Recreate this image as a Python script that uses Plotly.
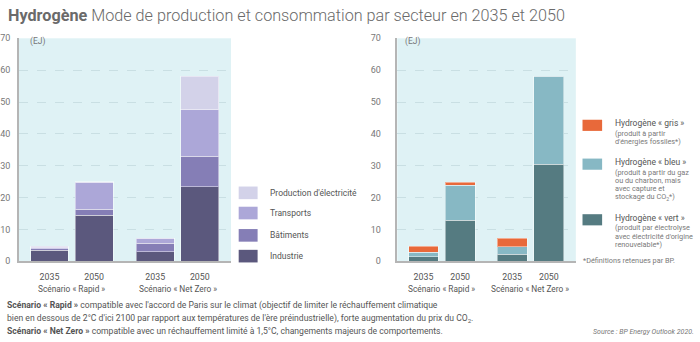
import plotly.graph_objects as go

# ---------------- data ----------------
years = ["2035", "2050", "2035", "2050"]
scenarios = ["Scénario « Rapid »", "Scénario « Net Zero »"]
y_ticks = [0, 10, 20, 30, 40, 50, 60, 70]

# Consumption by sector (EJ)
sector_names = ["Industrie", "Bâtiments", "Transports", "Production d'électricité"]
industrie = [3.4, 14.4, 3.0, 23.4]
batiments = [0.6, 2.0, 2.7, 9.6]
transports = [0.4, 8.4, 1.3, 14.5]
electricite = [0.3, 0.2, 0.2, 10.6]
sector_colors = ["#5b587d", "#857eb6", "#aca7d8", "#d3d2e9"]

# Production mode (EJ)
prod_names = ["Hydrogène « vert »", "Hydrogène « bleu »", "Hydrogène « gris »"]
h2_vert = [1.4, 12.9, 2.2, 30.5]
h2_bleu = [1.4, 11.0, 2.4, 27.6]
h2_gris = [1.9, 0.9, 2.6, 0.0]
prod_colors = ["#557b81", "#87b8c4", "#e8693a"]
prod_notes = [
    ["(produit par électrolyse", "avec électricité d'origine", "renouvelable*)"],
    ["(produit à partir du gaz", "ou du charbon, mais", "avec capture et", "stockage du CO<sub>2</sub>*)"],
    ["(produit à partir", "d'énergies fossiles*)"],
]

W, H = 700, 342
def px(x): return x / W
def py(y): return 1 - y / H

# bar positions: two groups of two bars
def positions(group_gap):
    return [0, 1, 1 + group_gap, 2 + group_gap]

pos_l = positions(1.37)
pos_r = positions(1.42)

fig = go.Figure()
for vals, name, col in zip([industrie, batiments, transports, electricite], sector_names, sector_colors):
    fig.add_trace(go.Bar(x=pos_l, y=vals, name=name, marker_color=col, width=0.85,
                         marker_line=dict(color="rgba(255,255,255,0.45)", width=1),
                         xaxis="x", yaxis="y", showlegend=False))
for vals, name, col in zip([h2_vert, h2_bleu, h2_gris], prod_names, prod_colors):
    fig.add_trace(go.Bar(x=pos_r, y=vals, name=name, marker_color=col, width=0.815,
                         marker_line=dict(color="rgba(255,255,255,0.45)", width=1),
                         xaxis="x2", yaxis="y2", showlegend=False))

tickfont = dict(family="Roboto", size=9, color="#777777")
yax = dict(range=[0, 70], tickvals=y_ticks, showgrid=True, gridcolor="#c9dfe3",
           griddash="dash", gridwidth=1, zeroline=False, showline=True, linecolor="#b5b5b5",
           linewidth=1.5, tickfont=tickfont, ticks="", fixedrange=True,
           domain=[py(264), py(34.3)])
xax = dict(showgrid=False, zeroline=False, showline=True, linecolor="#b5b5b5", linewidth=2,
           tickfont=dict(family="Roboto", size=8.8, color="#555555"), ticks="", ticktext=years,
           fixedrange=True, ticklabelstandoff=6)

fig.update_layout(
    width=W, height=H, margin=dict(l=0, r=0, t=0, b=0),
    paper_bgcolor="white", plot_bgcolor="#dff2f5", barmode="stack",
    font=dict(family="Roboto", color="#555555"),
    xaxis=dict(xax, domain=[px(16), px(229)], anchor="y", tickvals=pos_l,
               range=[-0.685, -0.685 + 213 / 44.8]),
    yaxis=dict(yax, anchor="x", ticklabelstandoff=5),
    xaxis2=dict(xax, domain=[px(396), px(575.3)], anchor="y2", tickvals=pos_r,
                range=[-0.715, -0.715 + 179.3 / 36.8]),
    yaxis2=dict(yax, anchor="x2", ticklabelstandoff=13),
)

ann = []
# title
ann.append(dict(x=px(3), y=py(11), xref="paper", yref="paper", xanchor="left", yanchor="middle",
                showarrow=False,
                text="<b>Hydrogène</b> <span style='font-weight:300'>Mode de production et consommation par secteur en 2035 et 2050</span>",
                font=dict(family="Roboto", size=16.2, color="#6a6a6a")))
# units
for xa, xx in [("x", px(25)), ("x2", px(402))]:
    ann.append(dict(x=xx, y=py(37.5), xref="paper", yref="paper", xanchor="left", yanchor="middle",
                    showarrow=False, text="(EJ)", font=dict(family="Roboto", size=8.5, color="#777777")))
# scenario labels
for xa, pos in [("x", pos_l), ("x2", pos_r)]:
    for i, s in enumerate(scenarios):
        ann.append(dict(x=(pos[2 * i] + pos[2 * i + 1]) / 2, y=py(292.5), xref=xa, yref="paper",
                        xanchor="center", yanchor="middle", showarrow=False, text=s,
                        font=dict(family="Roboto", size=8.3, color="#555555")))

shapes = []
# left legend (top = Production d'électricité)
leg_y = [258.7, 237.3, 214.3, 193.5]
for name, col, yc in zip(sector_names, sector_colors, leg_y):
    shapes.append(dict(type="rect", xref="paper", yref="paper", x0=px(236.7), x1=px(255.7),
                       y0=py(yc + 6.5), y1=py(yc - 6.5), fillcolor=col, line=dict(width=0)))
    ann.append(dict(x=px(266.5), y=py(yc), xref="paper", yref="paper", xanchor="left",
                    yanchor="middle", showarrow=False, text=name,
                    font=dict(family="Roboto", size=8.5, color="#555555")))

# right legend
leg_top = [219.0, 161.7, 121.7]
for name, col, yt, notes in zip(prod_names, prod_colors, leg_top, prod_notes):
    shapes.append(dict(type="rect", xref="paper", yref="paper", x0=px(582), x1=px(601.7),
                       y0=py(yt + 8), y1=py(yt - 3.5), fillcolor=col, line=dict(width=0)))
    ann.append(dict(x=px(613), y=py(yt), xref="paper", yref="paper", xanchor="left",
                    yanchor="middle", showarrow=False, text=name,
                    font=dict(family="Roboto", size=8.5, color="#555555")))
    for k, line in enumerate(notes):
        ann.append(dict(x=px(613), y=py(yt + 10.7 + 8.5 * k), xref="paper", yref="paper",
                        xanchor="left", yanchor="middle", showarrow=False, text=line,
                        font=dict(family="Roboto", size=7.3, color="#7a7a7a")))
ann.append(dict(x=px(580.5), y=py(263.7), xref="paper", yref="paper", xanchor="left",
                yanchor="middle", showarrow=False, text="*Définitions retenues par BP.",
                font=dict(family="Roboto", size=7.3, color="#7a7a7a")))

# footnotes
foot = [
    "<b>Scénario « Rapid »</b> compatible avec l'accord de Paris sur le climat (objectif de limiter le réchauffement climatique",
    "bien en dessous de 2°C d'ici 2100 par rapport aux températures de l'ère préindustrielle), forte augmentation du prix du CO<sub>2</sub>.",
    "<b>Scénario « Net Zero »</b> compatible avec un réchauffement limité à 1,5°C, changements majeurs de comportements.",
]
for k, line in enumerate(foot):
    ann.append(dict(x=px(2), y=py(310 + 13 * k), xref="paper", yref="paper", xanchor="left",
                    yanchor="middle", showarrow=False, text=line,
                    font=dict(family="Roboto", size=8.6, color="#555555")))
ann.append(dict(x=px(696), y=py(337), xref="paper", yref="paper", xanchor="right",
                yanchor="middle", showarrow=False, text="<i>Source : BP Energy Outlook 2020.</i>",
                font=dict(family="Roboto", size=7, color="#777777")))

fig.update_layout(annotations=ann, shapes=shapes)
fig.write_html("out.html")
